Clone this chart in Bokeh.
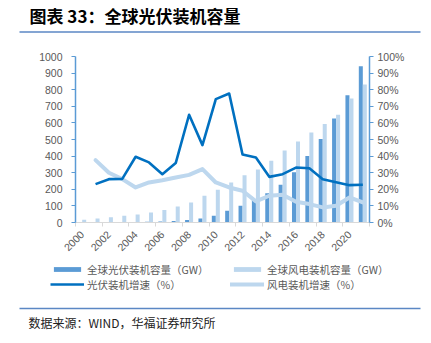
import math
from bokeh.plotting import figure
from bokeh.layouts import column
from bokeh.models import (Range1d, LinearAxis, FixedTicker, PrintfTickFormatter,
                          Legend, LegendItem, Label, BoxAnnotation, ColumnDataSource, Plot)
from bokeh.transform import dodge
from bokeh.embed import file_html
from bokeh.resources import INLINE

# ---------------- data ----------------
years = list(range(2000, 2022))
solar_gw = [1.2, 1.7, 2.2, 2.8, 3.7, 5.1, 6.7, 9.2, 15.8, 23.6, 40.3, 70.5,
            100.9, 137.1, 176.8, 226.9, 303.1, 401.0, 503.0, 627.0, 767.0, 942.0]
wind_gw = [17, 24, 32, 40, 48, 60, 76, 96, 120, 161, 198, 241,
           285, 319, 372, 434, 488, 542, 593, 649, 747, 832]
growth_years = list(range(2001, 2022))
solar_growth = [23.1, 26.1, 26.3, 39.6, 36.2, 29.1, 35.8, 64.9, 46.6, 74.3, 77.7,
                41.0, 39.2, 27.5, 29.1, 33.1, 32.7, 26.1, 24.3, 22.5, 22.7]
wind_growth = [37.6, 30.0, 26.1, 21.1, 24.1, 25.5, 27.1, 28.7, 32.2, 24.1, 21.1,
               19.1, 12.7, 16.1, 16.7, 12.5, 11.1, 9.1, 10.1, 15.1, 12.1]
x_tick_years = [y for y in years if y % 2 == 0]
x_tick_labels = [str(y) for y in x_tick_years]
left_ticks = list(range(0, 1001, 100))
right_ticks = list(range(0, 101, 10))

title_text = "图表 33：全球光伏装机容量"
source_text = "数据来源：WIND，华福证券研究所"
legend_labels = ["全球光伏装机容量（GW）", "全球风电装机容量（GW）",
                 "光伏装机增速（%）", "风电装机增速（%）"]

# ---------------- styles ----------------
C_SOLAR_BAR = "#5B9BD5"
C_WIND_BAR = "#BDD7EE"
C_SOLAR_LINE = "#0070C0"
C_WIND_LINE = "#BDD7EE"
C_AXIS = "#5B9BD5"
C_TEXT = "#595959"
C_RULE = "#5B87C4"
NUM_FONT = "Liberation Sans"
CJK_FONT = "Noto Sans CJK SC"
W = 431
H_TOP, H_MAIN, H_BOT = 40, 218, 85
HAS_FRAME_ALIGN = "frame_align" in Plot.properties()


def no_align(f):
    if HAS_FRAME_ALIGN:
        f.frame_align = False


def blank(h):
    f = figure(width=W, height=h, output_backend="svg", toolbar_location=None,
               x_axis_type=None, y_axis_type=None,
               x_range=Range1d(0, W), y_range=Range1d(0, h),
               min_border=0, min_border_left=0, min_border_right=0,
               min_border_top=0, min_border_bottom=0)
    f.outline_line_color = None
    f.xgrid.grid_line_color = None
    f.ygrid.grid_line_color = None
    no_align(f)
    return f


def rule(f, y):
    f.add_layout(BoxAnnotation(left=19, right=420, top=y + 0.75, bottom=y - 0.75,
                               fill_color=C_RULE, fill_alpha=1, line_color=None))


# ---------------- top: title ----------------
top = blank(H_TOP)
top.add_layout(Label(x=29, y=H_TOP - 15, x_units="screen", y_units="screen",
                     text=title_text, text_font=CJK_FONT, text_font_style="bold",
                     text_font_size="17px", text_baseline="middle",
                     text_color="#000000"))
rule(top, H_TOP - 31.5)

# ---------------- main chart ----------------
bars = ColumnDataSource(dict(year=years, solar=solar_gw, wind=wind_gw))
lines = ColumnDataSource(dict(year=growth_years, solar=solar_growth, wind=wind_growth))

p = figure(width=W, height=H_MAIN, output_backend="svg", toolbar_location=None,
           x_range=Range1d(years[0] - 0.5, years[-1] + 0.5),
           y_range=Range1d(0, 1000),
           min_border_left=75, min_border_right=62, min_border_top=16,
           min_border_bottom=36)
no_align(p)
p.extra_y_ranges = {"pct": Range1d(0, 100)}
p.outline_line_color = None
p.xgrid.grid_line_color = None
p.ygrid.grid_line_color = None

bar_kw = dict(width=0.3, line_color=None)
p.vbar(x=dodge("year", -0.15, range=p.x_range), top="solar", source=bars,
       fill_color=C_SOLAR_BAR, **bar_kw)
p.vbar(x=dodge("year", 0.15, range=p.x_range), top="wind", source=bars,
       fill_color=C_WIND_BAR, **bar_kw)
wind_line_kw = dict(line_color=C_WIND_LINE, line_width=4, line_join="round", line_cap="round")
solar_line_kw = dict(line_color=C_SOLAR_LINE, line_width=2.6, line_join="round")
p.line(x="year", y="wind", source=lines, y_range_name="pct", **wind_line_kw)
p.line(x="year", y="solar", source=lines, y_range_name="pct", **solar_line_kw)

xa = p.xaxis[0]
xa.ticker = FixedTicker(ticks=x_tick_years,
                        minor_ticks=[y - 0.5 for y in x_tick_years] + [years[-1] + 0.5])
xa.major_label_overrides = {y: s for y, s in zip(x_tick_years, x_tick_labels)}
xa.major_label_orientation = math.pi / 4
xa.major_tick_out = 0
xa.major_tick_in = 0
xa.minor_tick_out = 4
xa.minor_tick_in = 0
xa.minor_tick_line_color = "#D9D9D9"
xa.axis_line_color = "#D9D9D9"
xa.major_label_text_color = C_TEXT
xa.major_label_text_font = NUM_FONT
xa.major_label_text_font_size = "10.5px"
xa.major_label_standoff = 6

ya = p.yaxis[0]
ya.ticker = FixedTicker(ticks=left_ticks)
ya.axis_line_color = C_AXIS
ya.axis_line_width = 1.5
ya.major_tick_line_color = C_AXIS
ya.major_tick_out = 4
ya.major_tick_in = 0
ya.minor_tick_line_color = None
ya.major_label_text_color = C_TEXT
ya.major_label_text_font = NUM_FONT
ya.major_label_text_font_size = "10.5px"
ya.major_label_standoff = 9

ra = LinearAxis(y_range_name="pct", ticker=FixedTicker(ticks=right_ticks),
                formatter=PrintfTickFormatter(format="%d%%"))
ra.axis_line_color = C_AXIS
ra.axis_line_width = 1.5
ra.major_tick_line_color = C_AXIS
ra.major_tick_out = 4
ra.major_tick_in = 0
ra.minor_tick_line_color = None
ra.major_label_text_color = C_TEXT
ra.major_label_text_font = NUM_FONT
ra.major_label_text_font_size = "10.5px"
ra.major_label_standoff = 4
p.add_layout(ra, "right")

# ---------------- bottom: legend + source ----------------
# legend keys: same series drawn in the pixel-scaled bottom figure (they fall
# outside its visible range, only their legend glyphs show)
bot = blank(H_BOT)
k_sb = bot.vbar(x="year", top="solar", source=bars, fill_color=C_SOLAR_BAR, **bar_kw)
k_wb = bot.vbar(x="year", top="wind", source=bars, fill_color=C_WIND_BAR, **bar_kw)
k_sl = bot.line(x="year", y="solar", source=lines, **solar_line_kw)
k_wl = bot.line(x="year", y="wind", source=lines, **wind_line_kw)
legend = Legend(items=[LegendItem(label=legend_labels[0], renderers=[k_sb]),
                       LegendItem(label=legend_labels[1], renderers=[k_wb]),
                       LegendItem(label=legend_labels[2], renderers=[k_sl]),
                       LegendItem(label=legend_labels[3], renderers=[k_wl])],
                location=(50, H_BOT - 33.5), orientation="horizontal", ncols=2,
                glyph_width=34, glyph_height=6, label_width=143, label_height=12,
                label_standoff=3, spacing=0, padding=0, margin=0,
                border_line_color=None, background_fill_alpha=0,
                label_text_font=CJK_FONT, label_text_font_size="10.5px",
                label_text_color=C_TEXT, label_text_baseline="middle")
bot.add_layout(legend, "center")
rule(bot, H_BOT - 50)
bot.add_layout(Label(x=28, y=H_BOT - 63.7, x_units="screen", y_units="screen",
                     text=source_text, text_font=CJK_FONT, text_font_size="12px",
                     text_baseline="middle", text_color="#222222"))

layout = column(top, p, bot, spacing=0)
open("out.html", "w").write(file_html(layout, INLINE))
